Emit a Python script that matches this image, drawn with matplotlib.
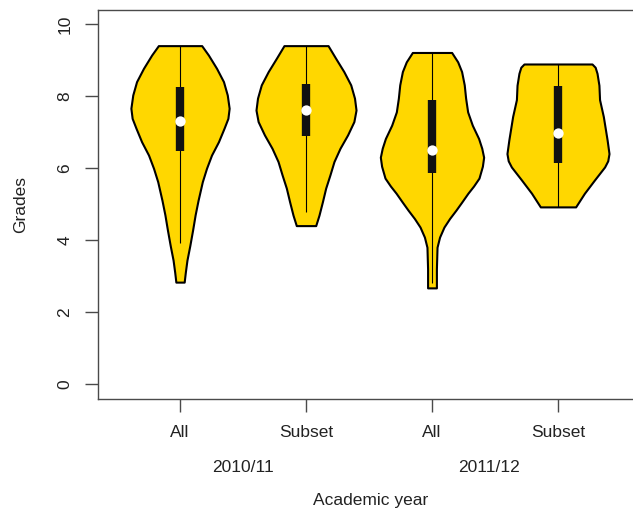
import numpy as np
import matplotlib.pyplot as plt
from matplotlib import transforms

plt.rcParams['font.family'] = ['Liberation Sans', 'DejaVu Sans']

groups = ["All", "Subset", "All", "Subset"]
years = ["2010/11", "2011/12"]
year_pos = [1.5, 3.45]

# violin outlines: grade levels (top -> bottom) and half-width of the density at each level
v1_y = [9.40, 9.14, 8.77, 8.40, 8.03, 7.66, 7.38, 7.11, 6.73, 6.36, 5.99, 5.62,
        5.10, 4.70, 4.28, 3.85, 3.44, 3.10, 2.83]
v1_w = [0.172, 0.225, 0.29, 0.345, 0.375, 0.39, 0.38, 0.35, 0.305, 0.25, 0.21, 0.177,
        0.143, 0.12, 0.10, 0.078, 0.055, 0.042, 0.033]

v2_y = [9.40, 9.05, 8.68, 8.31, 7.94, 7.61, 7.29, 6.92, 6.55, 6.18, 5.81, 5.44,
        5.06, 4.69, 4.40]
v2_w = [0.175, 0.235, 0.30, 0.355, 0.385, 0.397, 0.38, 0.33, 0.27, 0.222, 0.19, 0.156,
        0.13, 0.103, 0.077]

v3_y = [9.21, 8.95, 8.68, 8.31, 7.94, 7.56, 7.19, 6.82, 6.55, 6.30, 6.05, 5.72, 5.50,
        5.30, 5.05, 4.83, 4.60, 4.36, 4.08, 3.80, 3.20, 2.67]
v3_w = [0.156, 0.204, 0.235, 0.256, 0.267, 0.283, 0.32, 0.37, 0.395, 0.41, 0.40, 0.373, 0.33,
        0.285, 0.235, 0.19, 0.14, 0.095, 0.06, 0.04, 0.035, 0.035]

v4_y = [8.89, 8.80, 8.63, 8.30, 7.90, 7.43, 6.78, 6.40, 6.20, 6.03, 5.85, 5.67,
        5.30, 4.92]
v4_w = [0.27, 0.295, 0.31, 0.325, 0.33, 0.36, 0.39, 0.405, 0.395, 0.37, 0.33, 0.29,
        0.21, 0.14]

# box summaries
q1 = [6.47, 6.89, 5.86, 6.13]
q3 = [8.25, 8.33, 7.90, 8.29]
medians = [7.31, 7.61, 6.50, 6.98]
whisk_lo = [3.92, 4.78, 2.80, 4.92]
whisk_hi = [9.40, 9.40, 9.21, 8.89]

outlines = [(v1_y, v1_w), (v2_y, v2_w), (v3_y, v3_w), (v4_y, v4_w)]

fig = plt.figure(figsize=(6.33, 5.15), dpi=100)
ax = fig.add_axes([98 / 633, 116 / 515, 542 / 633, 389 / 515])

axis_col = "#4a4a4a"
text_col = "#222222"

for i, (ys, ws) in enumerate(outlines):
    c = i + 1
    ys = np.array(ys)
    ws = np.array(ws)
    ax.fill_betweenx(ys, c - ws, c + ws, facecolor="#FFD700",
                     edgecolor="black", linewidth=1.5, zorder=2)
    ax.vlines(c, whisk_lo[i], whisk_hi[i], color="black", linewidth=0.8, zorder=3)
    ax.vlines(c, q1[i], q3[i], color="#111111", linewidth=6, zorder=4,
              capstyle="butt")
    ax.scatter([c], [medians[i]], s=55, color="white", zorder=5, linewidths=0)

ax.set_xlim(0.349, 4.651)
ax.set_ylim(-0.417, 10.39)

ax.set_xticks(range(1, 5))
ax.set_xticklabels(groups)
ax.set_yticks(range(0, 11, 2))

for side in ["left", "bottom", "top"]:
    ax.spines[side].set_color(axis_col)
    ax.spines[side].set_linewidth(1.0)
ax.spines["right"].set_visible(False)

ax.tick_params(axis="both", length=9.5, width=1.0, color=axis_col,
               labelsize=12.5, labelcolor=text_col)
ax.tick_params(axis="x", pad=9)
ax.tick_params(axis="y", pad=9, labelrotation=90)
for lab in ax.get_yticklabels():
    lab.set_va("center")

ax.set_ylabel("Grades", fontsize=12.5, color=text_col, labelpad=21)

trans = transforms.blended_transform_factory(ax.transData, fig.transFigure)
for pos, yr in zip(year_pos, years):
    ax.text(pos, 1 - 468 / 515, yr, transform=trans, ha="center", va="center",
            fontsize=12.5, color=text_col)
fig.text(371 / 633, 1 - 500 / 515, "Academic year", ha="center", va="center",
         fontsize=12.5, color=text_col)

fig.savefig("out.png", dpi=100)
